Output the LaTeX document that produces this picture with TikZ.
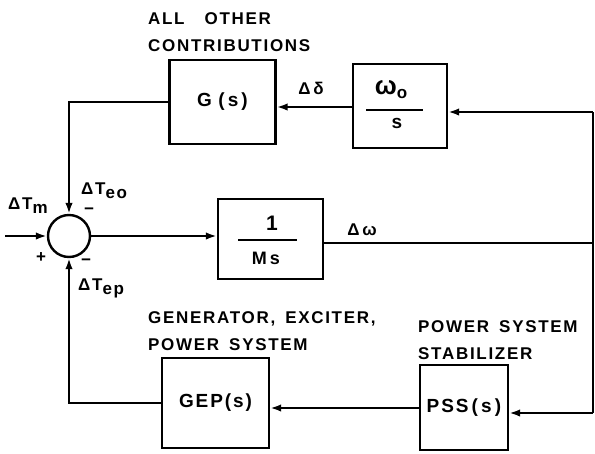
\documentclass[tikz,border=0pt]{standalone}
\usepackage{fontspec}
\setmainfont{Liberation Sans}[LetterSpace=10]
\usetikzlibrary{arrows.meta}
\newcommand{\ws}{\hspace{10pt}}
\begin{document}
\begin{tikzpicture}[x=1pt,y=-1pt,
  blk/.style={draw,line width=2.4pt,minimum width=#1,inner sep=0pt,font=\fontsize{19}{22}\selectfont\bfseries},
  conn/.style={line width=2.3pt},
  arr/.style={conn,-{Latex[length=11pt,width=7.5pt]}},
  lbl/.style={font=\fontsize{17}{27}\selectfont\bfseries,inner sep=0pt,align=left},
  every node/.append style={font=\fontsize{17}{20}\selectfont\bfseries}]
\useasboundingbox (0,0) rectangle (595,453);
% blocks
\node[blk=106pt,minimum height=84pt] (gs) at (222.5,102) {G\,\,(\,s\,)};
\node[blk=94pt,minimum height=84pt] (wo) at (400,106) {};
\node[blk=105pt,minimum height=80pt] (ms) at (270.5,239) {};
\node[draw,circle,line width=2.4pt,minimum size=42pt,inner sep=0pt] (sum) at (69,236) {};
\node[blk=107pt,minimum height=90pt] (gep) at (215.5,403) {GEP(s)};
\node[blk=88pt,minimum height=85pt] (pss) at (464,407.5) {PSS\,(\,s\,)};
% fractions
\node[inner sep=0pt] (wnum) at (391,90) {\fontsize{26}{26}\selectfont ω\raisebox{-4pt}{\fontsize{17}{17}\selectfont o}};
\draw[line width=2.2pt] (366,110) -- (423,110);
\node[inner sep=0pt] (wden) at (397,123) {\fontsize{19}{19}\selectfont s};
\node[inner sep=0pt] (mnum) at (272,223) {\fontsize{21}{21}\selectfont 1};
\draw[line width=2.2pt] (238,240) -- (297,240);
\node[inner sep=0pt] (mden) at (266,258) {\fontsize{18}{18}\selectfont M\,s};
% coordinates
\coordinate (in) at (5,236);
\coordinate (rt) at (593,112);
\coordinate (rm) at (593,243);
\coordinate (rb) at (593,413);
% connectors
\draw[arr] (in) -- (sum.west);
\draw[arr] (sum.east) -- (ms.west |- sum.east);
\draw[conn] (ms.east |- rm) -- (rm);
\draw[conn] (rt) -- (rb);
\draw[arr] (rt) -- (wo.east |- rt);
\draw[arr] (rb) -- (pss.east |- rb);
\draw[arr] (wo.west |- 0,107) -- (gs.east |- 0,107);
\draw[arr] (gs.west) -| (sum.north);
\draw[arr] (pss.west |- 0,408) -- (gep.east |- 0,408);
\draw[arr] (gep.west) -| (sum.south);
% labels
\node[lbl,anchor=west] (aoc) at (148,32) {ALL\hspace{20pt}OTHER\\CONTRIBUTIONS};
\node[inner sep=0pt] (dd) at (311,88) {Δ\,δ};
\node[inner sep=0pt,anchor=west] (teo) at (81,191) {ΔT\raisebox{-4pt}{eo}};
\node[inner sep=0pt] (m1) at (89,211) {−};
\node[inner sep=0pt,anchor=west] (tm) at (8,206) {ΔT\raisebox{-4pt}{m}};
\node[inner sep=0pt] (p1) at (41,258) {+};
\node[inner sep=0pt] (m2) at (86,262) {−};
\node[inner sep=0pt,anchor=west] (tep) at (78,288) {ΔT\raisebox{-4pt}{ep}};
\node[inner sep=0pt] (dw) at (362,230) {Δ\,ω};
\node[lbl,anchor=west] (gen) at (148,331) {GENERATOR,\ws EXCITER,\\POWER\ws SYSTEM};
\node[lbl,anchor=west] (pssl) at (418,340) {POWER\ws SYSTEM\\STABILIZER};
\end{tikzpicture}
\end{document}
